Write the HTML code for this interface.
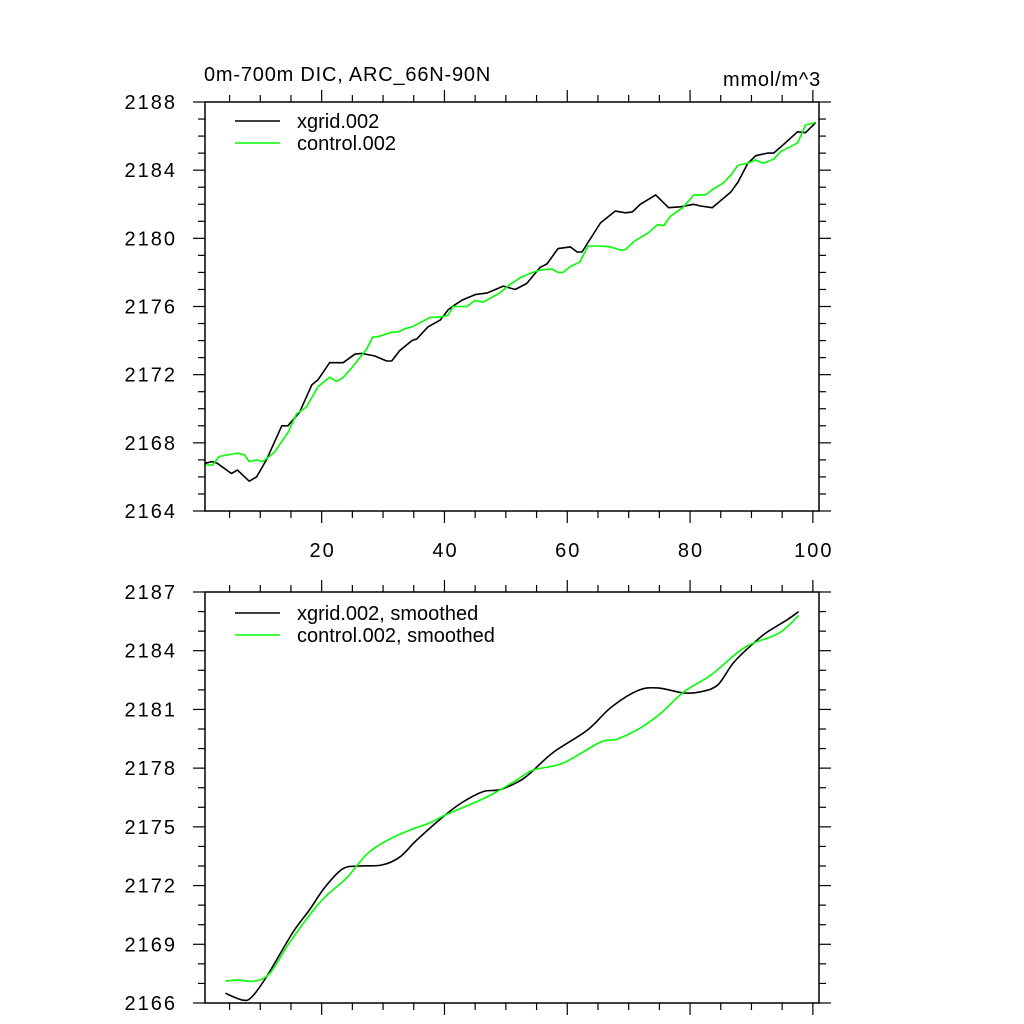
<!DOCTYPE html>
<html><head><meta charset="utf-8"><style>
html,body{margin:0;padding:0;background:#fff;}
svg{display:block;font-family:"Liberation Sans",Arial,sans-serif;}
</style></head><body>
<svg id="chart" width="1024" height="1024" viewBox="0 0 1024 1024" xmlns="http://www.w3.org/2000/svg">
<text x="204" y="81" font-size="20" letter-spacing="0.8">0m-700m DIC, ARC_66N-90N</text>
<text x="821" y="86" font-size="20" letter-spacing="0.8" text-anchor="end">mmol/m^3</text>
</svg>
<script>
// Top panel data (year, DIC)
const topXgridX = [1,2.2,3,5.3,6.3,8.2,9.4,11,13.5,14.5,16.4,18.4,19.4,21.3,22.4,23.5,25.4,26.5,28.6,30.6,31.4,32.7,34.7,35.5,37.3,39.3,40.6,41.7,43,45,47,49.6,51.5,53.4,55.6,56.7,58.5,60.5,61.6,62.4,65.4,67.8,69.5,70.6,71.9,74.4,76.5,78.4,80.6,81.7,83.6,86.6,87.8,89.4,90.7,92.6,93.6,95.2,97.5,98.8,100.5];
const topXgridY = [2166.8,2166.9,2166.8,2166.2,2166.4,2165.75,2166.0,2167.0,2169.0,2169.0,2169.8,2171.4,2171.7,2172.7,2172.7,2172.7,2173.2,2173.25,2173.1,2172.8,2172.8,2173.4,2174.0,2174.1,2174.8,2175.2,2175.8,2176.1,2176.4,2176.7,2176.8,2177.2,2177.0,2177.35,2178.3,2178.5,2179.4,2179.5,2179.2,2179.2,2180.9,2181.6,2181.5,2181.55,2182.0,2182.55,2181.8,2181.85,2182.0,2181.9,2181.8,2182.7,2183.3,2184.4,2184.85,2185.0,2185.0,2185.5,2186.25,2186.2,2186.8];
const topCtrlX = [1.2,2.2,3.3,6.3,7.4,8.2,9.4,10.4,12.3,14.5,15.9,17.5,19.4,21.3,22.4,23.4,24.9,27.3,28.3,29.4,31.4,32.4,33.5,34.7,37.6,39.7,40.6,41.4,43.6,45,46.3,49,50.7,52.6,54.4,55.6,57.5,58.5,59.3,60.5,62,63.4,65.4,67,68.7,69.5,70.8,73.1,74.7,75.7,76.8,78.8,80.6,82.5,83.8,85.4,86.6,87.8,89.4,90.6,91.9,93.6,94.8,97.5,98.8,100.5];
const topCtrlY = [2166.7,2166.7,2167.2,2167.4,2167.3,2166.9,2167.0,2166.9,2167.45,2168.6,2169.7,2170.1,2171.3,2171.85,2171.6,2171.8,2172.4,2173.5,2174.2,2174.25,2174.5,2174.5,2174.7,2174.8,2175.35,2175.4,2175.5,2176.0,2176.0,2176.35,2176.25,2176.8,2177.3,2177.75,2178.0,2178.15,2178.2,2178.0,2178.0,2178.35,2178.6,2179.55,2179.55,2179.5,2179.3,2179.35,2179.8,2180.3,2180.8,2180.75,2181.3,2181.8,2182.55,2182.55,2182.9,2183.25,2183.7,2184.3,2184.4,2184.6,2184.4,2184.65,2185.1,2185.6,2186.65,2186.8];
// Bottom panel data (smoothed)
const botXgridX = [4.3,7.1,8.6,11,15.3,18,20.5,23.4,26.2,29.8,32.7,35.5,40.1,43,46.3,49,52,54,57.7,63.3,67,71.4,74.7,79,81.7,84.5,87.1,90.4,92.6,95.9,97.7];
const botXgridY = [2166.5,2166.15,2166.3,2167.33,2169.6,2170.75,2171.9,2172.85,2173.0,2173.05,2173.45,2174.33,2175.6,2176.27,2176.8,2176.9,2177.3,2177.75,2178.8,2179.95,2181.07,2181.95,2182.1,2181.84,2181.9,2182.25,2183.4,2184.4,2184.96,2185.6,2186.0];
const botCtrlX = [4.3,6.3,9,11.5,14.7,18.4,20.8,24.1,27.5,31.1,34.9,37.6,40.1,44.6,47.4,49,51.8,54.4,59.3,65.4,68.1,71.9,75.2,79,83.4,87.8,90.4,94.5,97.7];
const botCtrlY = [2167.12,2167.17,2167.12,2167.5,2169.06,2170.65,2171.5,2172.4,2173.65,2174.38,2174.9,2175.2,2175.6,2176.2,2176.6,2176.88,2177.4,2177.9,2178.26,2179.33,2179.48,2180.05,2180.8,2181.9,2182.76,2183.93,2184.4,2184.9,2185.8];
const xTicks = [20,40,60,80,100];
const topYTicks = [2164,2168,2172,2176,2180,2184,2188];
const botYTicks = [2166,2169,2172,2175,2178,2181,2184,2187];

const svg = document.getElementById('chart');
const NS = 'http://www.w3.org/2000/svg';
function mk(tag, attrs){const e=document.createElementNS(NS,tag);for(const k in attrs)e.setAttribute(k,attrs[k]);svg.appendChild(e);return e;}

function smoothPath(P){
  let d='M'+P[0][0].toFixed(1)+' '+P[0][1].toFixed(1);
  for(let i=0;i<P.length-1;i++){
    const p0=P[Math.max(0,i-1)],p1=P[i],p2=P[i+1],p3=P[Math.min(P.length-1,i+2)];
    const c1=[p1[0]+(p2[0]-p0[0])/6,p1[1]+(p2[1]-p0[1])/6];
    const c2=[p2[0]-(p3[0]-p1[0])/6,p2[1]-(p3[1]-p1[1])/6];
    d+=' C'+c1[0].toFixed(1)+' '+c1[1].toFixed(1)+' '+c2[0].toFixed(1)+' '+c2[1].toFixed(1)+' '+p2[0].toFixed(1)+' '+p2[1].toFixed(1);
  }
  return d;
}

function panel(p){
  const xs = v => p.L + (v-1)/(101-1)*(p.R-p.L);
  const ys = v => p.B - (v-p.ymin)/(p.ymax-p.ymin)*(p.B-p.T);
  const f = mk('rect',{x:p.L,y:p.T,width:p.R-p.L,height:p.B-p.T,fill:'none',stroke:'#000','stroke-width':1.5});
  
  
  for(let v=5; v<=100; v+=5){
    const major = v%20===0, len = major?12:7, x=xs(v);
    const t1 = mk('line',{x1:x,x2:x,y1:p.B,y2:p.B+len,stroke:'#000','stroke-width':1.2});
    
    
    const t2 = mk('line',{x1:x,x2:x,y1:p.T,y2:p.T-len,stroke:'#000','stroke-width':1.2});
    
    
  }
  if(p.xlabels){
    xTicks.forEach(v=>{
      const t = mk('text',{x:xs(v)+1,y:p.B+46,'font-size':20,'letter-spacing':2,'text-anchor':'middle'});
      t.textContent = v;
      
      
    });
  }
  for(let v=p.ymin; v<=p.ymax; v+=1){
    const major = p.yTicks.includes(v), len = major?12:7, y=ys(v);
    const a = mk('line',{x1:p.L,x2:p.L-len,y1:y,y2:y,stroke:'#000','stroke-width':1.2});
    
    
    const b = mk('line',{x1:p.R,x2:p.R+len,y1:y,y2:y,stroke:'#000','stroke-width':1.2});
    
    
  }
  p.yTicks.forEach(v=>{
    const t = mk('text',{x:177,y:ys(v)+7,'font-size':20,'letter-spacing':2,'text-anchor':'end'});
    t.textContent = v;
    
    
  });
  p.series.forEach((s,i)=>{
    const pts = s.x.map((v,j)=>[xs(v),ys(s.y[j])]);
    const d = p.smooth ? smoothPath(pts) : pts.map((q,j)=>(j?'L':'M')+q[0].toFixed(1)+' '+q[1].toFixed(1)).join(' ');
    const path = mk('path',{d:d,fill:'none',stroke:s.color,'stroke-width':1.6,'stroke-linejoin':'round'});
    
    
    const ly = p.legY + i*22;
    const ll = mk('line',{x1:235,x2:280,y1:ly,y2:ly,stroke:s.color,'stroke-width':1.6});
    
    
    const lt = mk('text',{x:297,y:ly+7,'font-size':20});
    lt.textContent = s.label;
    
    
  });
}

panel({name:'top-panel',L:205,R:819,T:102,B:511,ymin:2164,ymax:2188,yTicks:topYTicks,xlabels:true,legY:121,smooth:false,
  series:[{key:'xgrid',x:topXgridX,y:topXgridY,color:'#000',label:'xgrid.002'},
          {key:'control',x:topCtrlX,y:topCtrlY,color:'#00ff00',label:'control.002'}]});
panel({name:'bottom-panel',L:205,R:819,T:592,B:1003,ymin:2166,ymax:2187,yTicks:botYTicks,xlabels:false,legY:613,smooth:true,
  series:[{key:'xgrid-smoothed',x:botXgridX,y:botXgridY,color:'#000',label:'xgrid.002, smoothed'},
          {key:'control-smoothed',x:botCtrlX,y:botCtrlY,color:'#00ff00',label:'control.002, smoothed'}]});
</script>
</body></html>
